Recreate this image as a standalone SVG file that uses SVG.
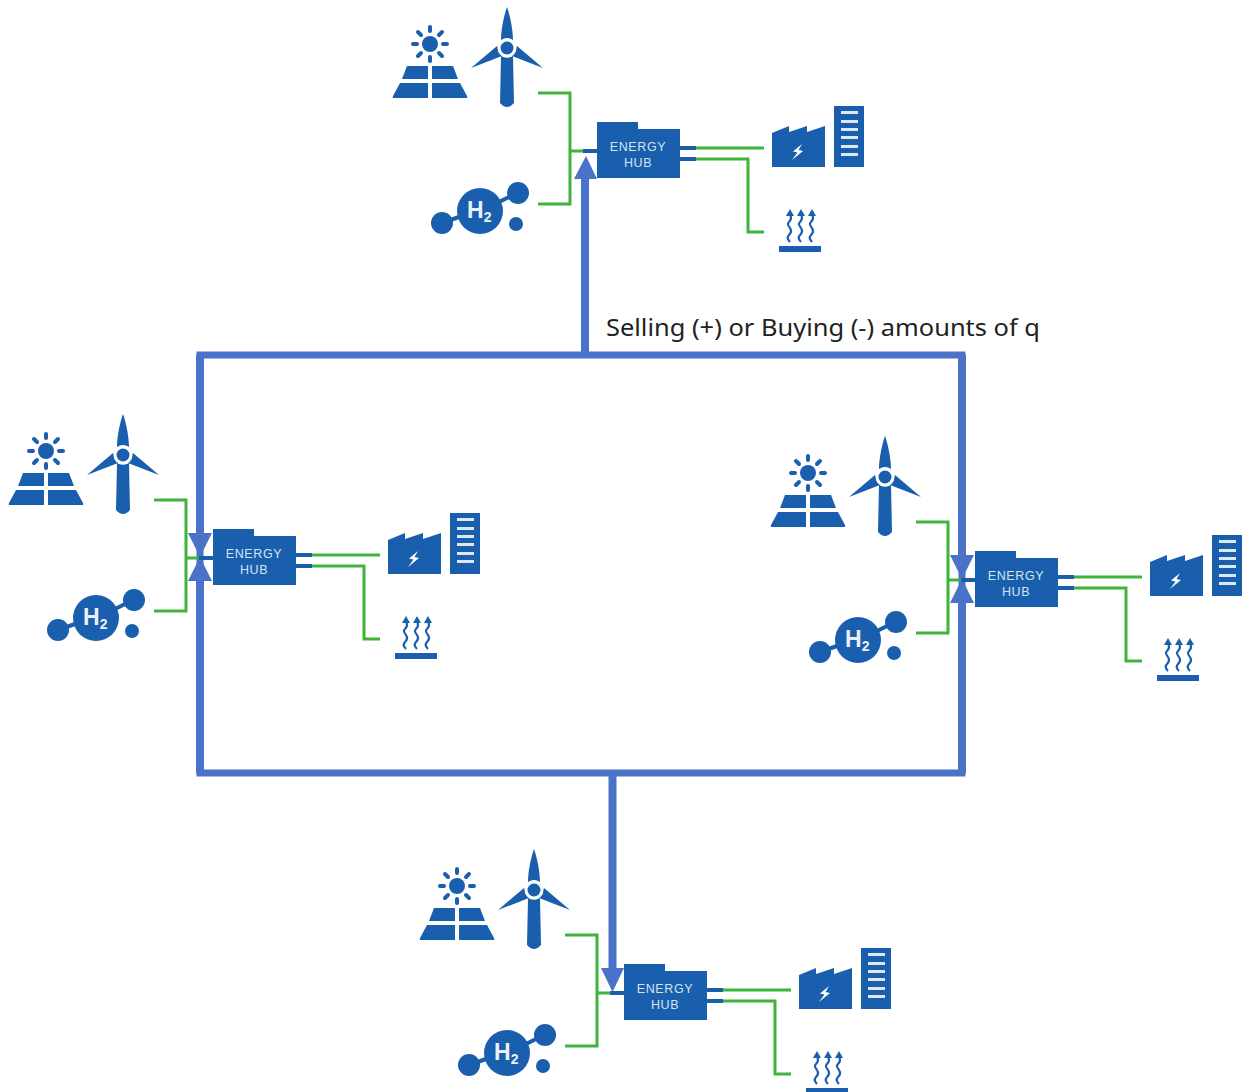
<svg xmlns="http://www.w3.org/2000/svg" width="1249" height="1092" viewBox="0 0 1249 1092">
<style>
.ic{fill:#1a5fad}
.ray{stroke:#1a5fad;stroke-width:4;stroke-linecap:round;fill:none}
.wv{stroke:#1a5fad;stroke-width:2.200;fill:none}
.g{stroke:#3fb33a;stroke-width:3;fill:none}
.s{stroke:#1a5fad;stroke-width:4;fill:none}
.f{stroke:#4a72c8;stroke-width:7;fill:none}
.st{stroke:#4a72c8;stroke-width:8;fill:none}
.ah{fill:#4a72c8}
.hl{font-family:"Liberation Sans",Arial,sans-serif;font-size:12.500px;letter-spacing:.6px;fill:#d5e3f0;text-anchor:middle}
.h2{font-family:"Liberation Sans",Arial,sans-serif;font-weight:bold;fill:#e8f0f8;font-size:23px}
.lb{font-family:"Noto Sans","Open Sans",sans-serif;font-size:24px;fill:#222}
</style>
<defs>
<g id="solar-i">
<circle class="ic" cx="430" cy="44" r="8"/>
<path class="ray" d="M430 27V31M430 57V61M413 44H417M443 44H447M418 32L421 35M439 53L442 56M442 32L439 35M421 53L418 56"/>
<path class="ic" d="M407 66H428V79H402ZM432 66H453L458 79H432ZM400 83H428V98H394Q392 98 393 96ZM432 83H460L467 96Q468 98 466 98H432Z"/>
</g>
<g id="wind-i">
<path class="ic" d="M507 7C510 15 513 30 513 40Q507 36 501 40C501 30 504 15 507 7ZM501 56Q507 59 513 56L514 103Q507 111 500 103ZM471 68L497 46L502 56ZM543 68L517 46L512 56Z"/>
<circle cx="507" cy="48" r="9.500" fill="#fff"/>
<circle class="ic" cx="507" cy="48" r="6.500"/>
</g>
<g id="h2-i">
<circle class="ic" cx="480" cy="211" r="23"/>
<circle class="ic" cx="442" cy="223" r="11"/>
<circle class="ic" cx="518" cy="193" r="11"/>
<circle class="ic" cx="516" cy="224" r="7"/>
<path class="s" d="M445 222L470 213M497 203L515 194"/>
</g>
<g id="hub-i">
<path class="ic" d="M597 122H638V129H680V178H597Z"/>
</g>
<g id="factory-i">
<path class="ic" d="M772 133L789 126V132L807 126V132L825 126V167H772Z"/>
<path fill="#fff" d="M802 144L793 151.500L797.500 152.500L792 160L803 151L798.500 150L802 144Z"/>
<path class="ic" d="M834 106H864V167H834Z"/>
<path fill="#dce8f3" d="M841 111H858V114H841ZM841 120H858V123H841ZM841 128H858V131H841ZM841 136H858V139H841ZM841 145H858V148H841ZM841 153H858V156H841Z"/>
</g>
<g id="heat-i">
<path class="ic" d="M779 246H821V252H779Z"/>
<g id="wave-i">
<path class="wv" d="M790 242C787 239 787 237 789 235S792 231 790 228S787 224 789 222S792 218 790 214"/>
<path class="ic" d="M790 209L794 216H786Z"/>
</g>
<use href="#wave-i" x="11"/>
<use href="#wave-i" x="22"/>
</g>
</defs>

<g id="connectors">
<g id="exchange-loop">
<path class="f" d="M200 355H962V773H200Z"/>
<path class="st" d="M585 355V175"/><path class="ah" d="M586 156L597 179H574Z"/>
<path class="st" d="M612.500 773V972"/><path class="ah" d="M612.500 992L601 968H624Z"/>
<path class="st" d="M200 355V536"/><path class="ah" d="M200 557L188 533H212Z"/>
<path class="st" d="M200 773V578"/><path class="ah" d="M200 557L212 581H188Z"/>
<path class="st" d="M962 355V558"/><path class="ah" d="M962 579L950 555H974Z"/>
<path class="st" d="M962 773V600"/><path class="ah" d="M962 579L974 603H950Z"/>
</g>
<g id="connectors-top">
<path class="g" d="M538 93H570V204H538"/><path class="g" d="M570 151H585"/><path class="s" d="M583 151H597"/>
<path class="s" d="M680 148H696"/><path class="s" d="M680 159H696"/>
<path class="g" d="M696 148H764"/><path class="g" d="M696 159H748V232H764"/>
</g>
<g id="connectors-left" transform="translate(-384 407)">
<path class="g" d="M538 93H570V204H538"/><path class="g" d="M570 151H585"/><path class="s" d="M583 151H597"/>
<path class="s" d="M680 148H696"/><path class="s" d="M680 159H696"/>
<path class="g" d="M696 148H764"/><path class="g" d="M696 159H748V232H764"/>
</g>
<g id="connectors-right" transform="translate(378 429)">
<path class="g" d="M538 93H570V204H538"/><path class="g" d="M570 151H585"/><path class="s" d="M583 151H597"/>
<path class="s" d="M680 148H696"/><path class="s" d="M680 159H696"/>
<path class="g" d="M696 148H764"/><path class="g" d="M696 159H748V232H764"/>
</g>
<g id="connectors-bottom" transform="translate(27 842)">
<path class="g" d="M538 93H570V204H538"/><path class="g" d="M570 151H585"/><path class="s" d="M583 151H597"/>
<path class="s" d="M680 148H696"/><path class="s" d="M680 159H696"/>
<path class="g" d="M696 148H764"/><path class="g" d="M696 159H748V232H764"/>
</g>
</g>

<g id="site-top">
<g id="top-solar"><use href="#solar-i"/></g>
<g id="top-wind"><use href="#wind-i"/></g>
<g id="top-h2"><use href="#h2-i"/><text class="h2" x="467" y="218">H<tspan font-size="14" dy="4">2</tspan></text></g>
<g id="top-hub"><use href="#hub-i"/><text class="hl" x="638" y="151">ENERGY</text><text class="hl" x="638" y="167">HUB</text></g>
<g id="top-factory"><use href="#factory-i"/></g>
<g id="top-heat"><use href="#heat-i"/></g>
</g>
<g id="site-left" transform="translate(-384 407)">
<g id="left-solar"><use href="#solar-i"/></g>
<g id="left-wind"><use href="#wind-i"/></g>
<g id="left-h2"><use href="#h2-i"/><text class="h2" x="467" y="218">H<tspan font-size="14" dy="4">2</tspan></text></g>
<g id="left-hub"><use href="#hub-i"/><text class="hl" x="638" y="151">ENERGY</text><text class="hl" x="638" y="167">HUB</text></g>
<g id="left-factory"><use href="#factory-i"/></g>
<g id="left-heat"><use href="#heat-i"/></g>
</g>
<g id="site-right" transform="translate(378 429)">
<g id="right-solar"><use href="#solar-i"/></g>
<g id="right-wind"><use href="#wind-i"/></g>
<g id="right-h2"><use href="#h2-i"/><text class="h2" x="467" y="218">H<tspan font-size="14" dy="4">2</tspan></text></g>
<g id="right-hub"><use href="#hub-i"/><text class="hl" x="638" y="151">ENERGY</text><text class="hl" x="638" y="167">HUB</text></g>
<g id="right-factory"><use href="#factory-i"/></g>
<g id="right-heat"><use href="#heat-i"/></g>
</g>
<g id="site-bottom" transform="translate(27 842)">
<g id="bottom-solar"><use href="#solar-i"/></g>
<g id="bottom-wind"><use href="#wind-i"/></g>
<g id="bottom-h2"><use href="#h2-i"/><text class="h2" x="467" y="218">H<tspan font-size="14" dy="4">2</tspan></text></g>
<g id="bottom-hub"><use href="#hub-i"/><text class="hl" x="638" y="151">ENERGY</text><text class="hl" x="638" y="167">HUB</text></g>
<g id="bottom-factory"><use href="#factory-i"/></g>
<g id="bottom-heat"><use href="#heat-i"/></g>
</g>
<text id="label" class="lb" x="606" y="336" textLength="434" lengthAdjust="spacingAndGlyphs">Selling (+) or Buying (-) amounts of q</text>
</svg>
